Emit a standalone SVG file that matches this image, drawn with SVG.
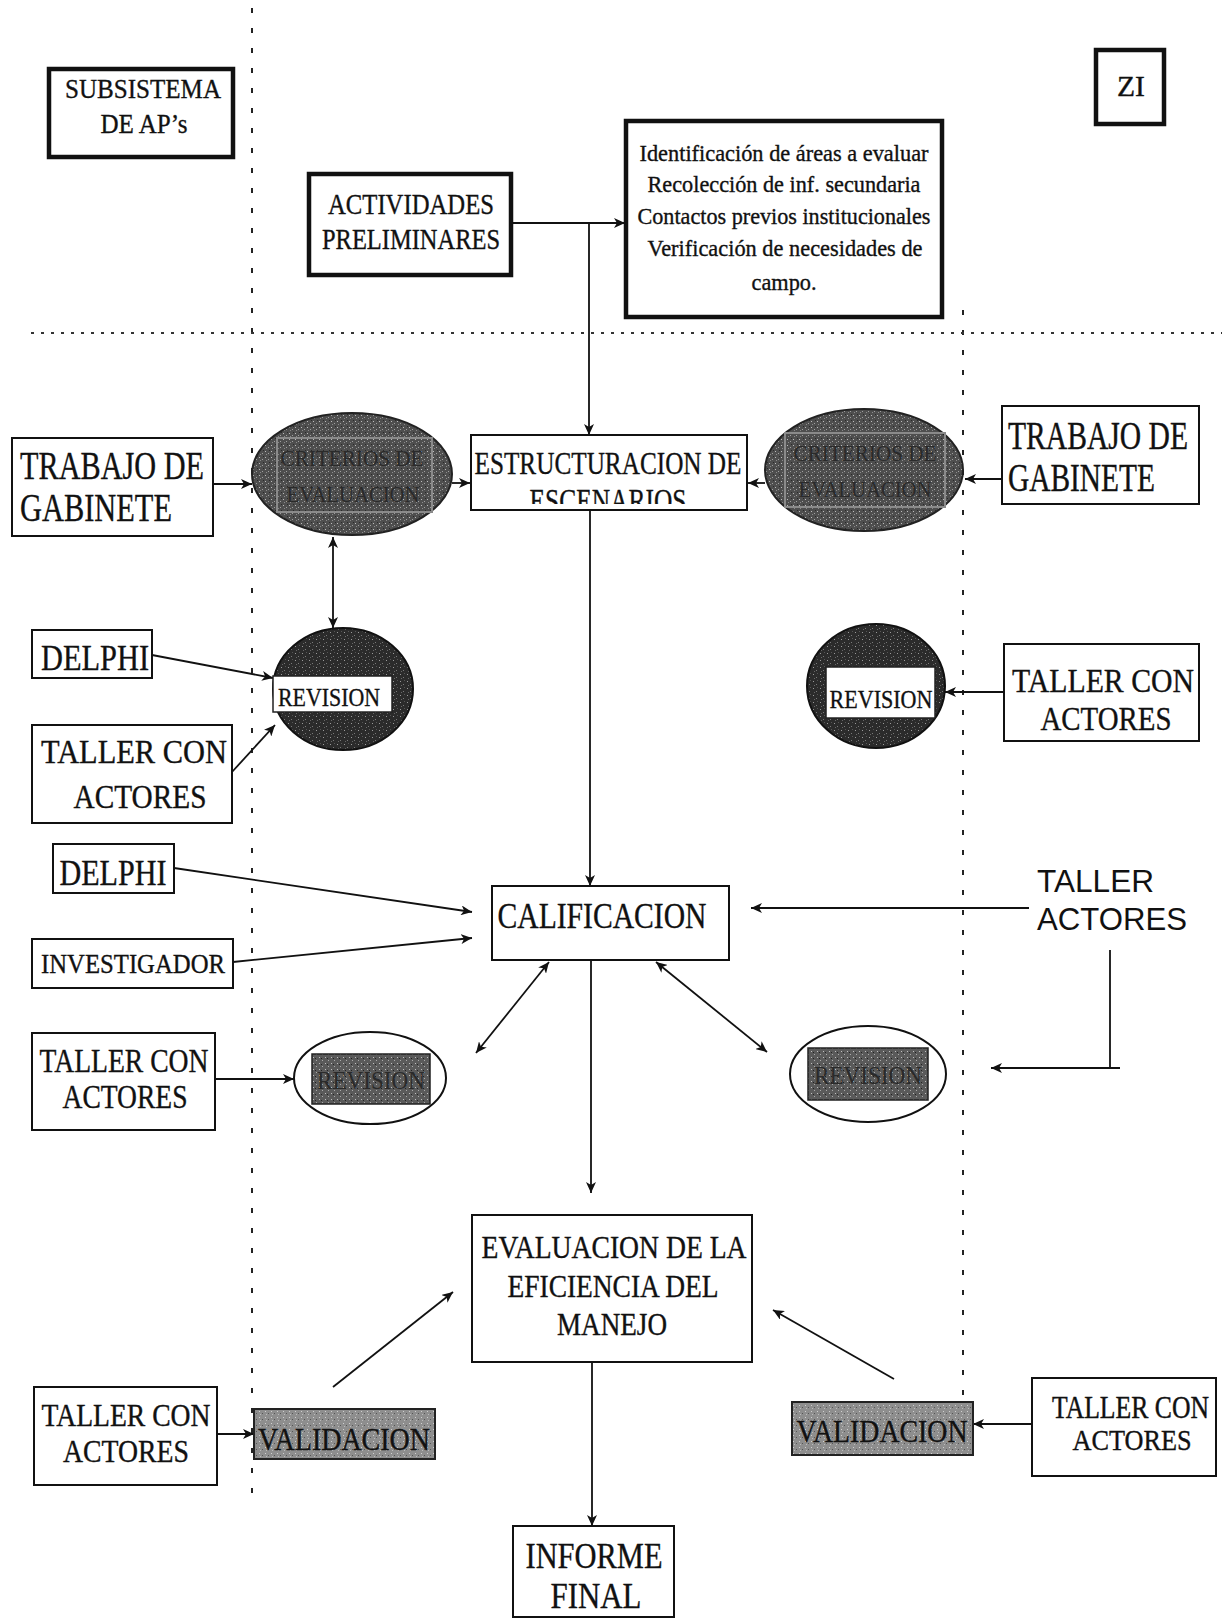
<svg xmlns="http://www.w3.org/2000/svg" width="1222" height="1619" viewBox="0 0 1222 1619">
<style>
.s{font-family:"Liberation Serif","Times New Roman",serif;fill:#111;stroke:#111;stroke-width:0.35}
.a{font-family:"Liberation Sans",Arial,sans-serif;fill:#111}
.m{text-anchor:middle}
.bx{fill:#fff;stroke:#111;stroke-width:2}
.tk{fill:#fff;stroke:#111;stroke-width:4.5}
.c{fill:none;stroke:#111;stroke-width:1.8}
.dv{stroke:#222;stroke-width:2;stroke-dasharray:5 15;fill:none}
.dh{stroke:#333;stroke-width:2;stroke-dasharray:3 7;fill:none}
.dk{fill:#2a2a2a;stroke:none}
</style>
<defs>
<marker id="ah" markerUnits="userSpaceOnUse" markerWidth="12" markerHeight="10" refX="11" refY="5" orient="auto-start-reverse"><path d="M0,0 L11,5 L0,10 L3,5 z" fill="#111"/></marker>
<pattern id="pDark" width="7" height="7" patternUnits="userSpaceOnUse"><rect width="7" height="7" fill="#2b2b2b"/><rect x="1" y="2" width="1" height="1" fill="#9a9a9a"/><rect x="4" y="5" width="1" height="1" fill="#7a7a7a"/><rect x="5" y="1" width="1" height="1" fill="#555"/><rect x="2" y="6" width="1" height="1" fill="#666"/></pattern>
<pattern id="pMid" width="6" height="6" patternUnits="userSpaceOnUse"><rect width="6" height="6" fill="#4e4e4e"/><rect x="1" y="1" width="1" height="1" fill="#bcbcbc"/><rect x="4" y="3" width="1" height="1" fill="#a0a0a0"/><rect x="2" y="4" width="1" height="1" fill="#8a8a8a"/><rect x="5" y="0" width="1" height="1" fill="#2a2a2a"/></pattern>
<pattern id="pLow" width="6" height="6" patternUnits="userSpaceOnUse"><rect width="6" height="6" fill="#5a5a5a"/><rect x="1" y="1" width="1" height="1" fill="#c0c0c0"/><rect x="4" y="4" width="1" height="1" fill="#aaa"/><rect x="3" y="2" width="1" height="1" fill="#222"/></pattern>
<pattern id="pVal" width="6" height="6" patternUnits="userSpaceOnUse"><rect width="6" height="6" fill="#8e8e8e"/><rect x="1" y="1" width="1" height="1" fill="#d0d0d0"/><rect x="4" y="3" width="1" height="1" fill="#555"/><rect x="2" y="4" width="1" height="1" fill="#bbb"/></pattern>
<clipPath id="clipEsc"><rect x="471" y="435" width="276" height="69"/></clipPath>
</defs>
<rect width="1222" height="1619" fill="#fff"/>

<g id="guides">
<line class="dv" x1="252" y1="8" x2="252" y2="1500"/>
<line class="dv" x1="963" y1="310" x2="963" y2="1462"/>
<line class="dh" x1="31" y1="333" x2="1222" y2="333"/>
</g>

<g id="connectors">
<line class="c" x1="511" y1="223" x2="625" y2="223" marker-end="url(#ah)"/>
<line class="c" x1="589" y1="223" x2="589" y2="435" marker-end="url(#ah)"/>
<line class="c" x1="213" y1="484" x2="252" y2="484" marker-end="url(#ah)"/>
<line class="c" x1="452" y1="483" x2="470" y2="483" marker-end="url(#ah)"/>
<line class="c" x1="765" y1="483" x2="748" y2="483" marker-end="url(#ah)"/>
<line class="c" x1="1002" y1="479" x2="965" y2="479" marker-end="url(#ah)"/>
<line class="c" x1="333" y1="537" x2="333" y2="628" marker-start="url(#ah)" marker-end="url(#ah)"/>
<line class="c" x1="152" y1="655" x2="273" y2="678" marker-end="url(#ah)"/>
<line class="c" x1="232" y1="772" x2="275" y2="725" marker-end="url(#ah)"/>
<line class="c" x1="1004" y1="692" x2="945" y2="692" marker-end="url(#ah)"/>
<line class="c" x1="590" y1="510" x2="590" y2="886" marker-end="url(#ah)"/>
<line class="c" x1="174" y1="868" x2="472" y2="912" marker-end="url(#ah)"/>
<line class="c" x1="233" y1="962" x2="472" y2="938" marker-end="url(#ah)"/>
<line class="c" x1="1029" y1="908" x2="751" y2="908" marker-end="url(#ah)"/>
<line class="c" x1="1110" y1="950" x2="1110" y2="1068"/>
<line class="c" x1="1120" y1="1068" x2="991" y2="1068" marker-end="url(#ah)"/>
<line class="c" x1="549" y1="962" x2="476" y2="1053" marker-start="url(#ah)" marker-end="url(#ah)"/>
<line class="c" x1="656" y1="962" x2="767" y2="1052" marker-start="url(#ah)" marker-end="url(#ah)"/>
<line class="c" x1="215" y1="1079" x2="294" y2="1079" marker-end="url(#ah)"/>
<line class="c" x1="591" y1="960" x2="591" y2="1193" marker-end="url(#ah)"/>
<line class="c" x1="333" y1="1387" x2="453" y2="1292" marker-end="url(#ah)"/>
<line class="c" x1="894" y1="1379" x2="773" y2="1310" marker-end="url(#ah)"/>
<line class="c" x1="217" y1="1434" x2="254" y2="1434" marker-end="url(#ah)"/>
<line class="c" x1="1032" y1="1424" x2="973" y2="1424" marker-end="url(#ah)"/>
<line class="c" x1="592" y1="1362" x2="592" y2="1526" marker-end="url(#ah)"/>
</g>

<g id="subsistema">
<rect class="tk" x="49" y="69" width="184" height="88"/>
<text class="s m" x="143" y="98" font-size="28" textLength="156" lengthAdjust="spacingAndGlyphs">SUBSISTEMA</text>
<text class="s m" x="144" y="133" font-size="28" textLength="87" lengthAdjust="spacingAndGlyphs">DE AP’s</text>
</g>

<g id="zi">
<rect class="tk" x="1096" y="50" width="68" height="74"/>
<text class="s m" x="1131" y="96" font-size="30" textLength="28" lengthAdjust="spacingAndGlyphs">ZI</text>
</g>

<g id="actividades">
<rect class="tk" x="309" y="174" width="202" height="101"/>
<text class="s m" x="411" y="214" font-size="29" textLength="166" lengthAdjust="spacingAndGlyphs">ACTIVIDADES</text>
<text class="s m" x="411" y="249" font-size="29" textLength="178" lengthAdjust="spacingAndGlyphs">PRELIMINARES</text>
</g>

<g id="info">
<rect class="tk" x="626" y="121" width="316" height="196"/>
<text class="s m" x="784" y="161" font-size="23" textLength="289" lengthAdjust="spacingAndGlyphs">Identificación de áreas a evaluar</text>
<text class="s m" x="784" y="192" font-size="23" textLength="273" lengthAdjust="spacingAndGlyphs">Recolección de inf. secundaria</text>
<text class="s m" x="784" y="224" font-size="23" textLength="293" lengthAdjust="spacingAndGlyphs">Contactos previos institucionales</text>
<text class="s m" x="785" y="256" font-size="23" textLength="275" lengthAdjust="spacingAndGlyphs">Verificación de necesidades de</text>
<text class="s m" x="784" y="290" font-size="23" textLength="65" lengthAdjust="spacingAndGlyphs">campo.</text>
</g>

<g id="trabajo-izq">
<rect class="bx" x="12" y="438" width="201" height="98"/>
<text class="s" x="20" y="479" font-size="39" textLength="184" lengthAdjust="spacingAndGlyphs">TRABAJO DE</text>
<text class="s" x="20" y="521" font-size="39" textLength="152" lengthAdjust="spacingAndGlyphs">GABINETE</text>
</g>

<g id="criterios-izq">
<ellipse cx="352" cy="474" rx="100" ry="61" fill="url(#pMid)" stroke="#222" stroke-width="2"/>
<rect x="277" y="438" width="155" height="74" fill="none" stroke="#8a8a8a" stroke-width="2"/>
<text class="s m dk" x="352" y="466" font-size="24" textLength="143" lengthAdjust="spacingAndGlyphs">CRITERIOS DE</text>
<text class="s m dk" x="353" y="502" font-size="24" textLength="133" lengthAdjust="spacingAndGlyphs">EVALUACION</text>
</g>

<g id="estructuracion">
<rect class="bx" x="471" y="435" width="276" height="75"/>
<text class="s m" x="608" y="474" font-size="32" textLength="267" lengthAdjust="spacingAndGlyphs">ESTRUCTURACION DE</text>
<text class="s m" x="608" y="512" font-size="34" clip-path="url(#clipEsc)" textLength="157" lengthAdjust="spacingAndGlyphs">ESCENARIOS</text>
</g>

<g id="criterios-der">
<ellipse cx="864" cy="470" rx="99" ry="61" fill="url(#pMid)" stroke="#222" stroke-width="2"/>
<rect x="785" y="433" width="160" height="74" fill="none" stroke="#8a8a8a" stroke-width="2"/>
<text class="s m dk" x="865" y="461" font-size="24" textLength="143" lengthAdjust="spacingAndGlyphs">CRITERIOS DE</text>
<text class="s m dk" x="865" y="497" font-size="24" textLength="133" lengthAdjust="spacingAndGlyphs">EVALUACION</text>
</g>

<g id="trabajo-der">
<rect class="bx" x="1002" y="406" width="197" height="98"/>
<text class="s" x="1008" y="449" font-size="34" transform="matrix(1 0 0 1.15 0 -67.35)" textLength="180" lengthAdjust="spacingAndGlyphs">TRABAJO DE</text>
<text class="s" x="1008" y="491" font-size="34" transform="matrix(1 0 0 1.15 0 -73.65)" textLength="147" lengthAdjust="spacingAndGlyphs">GABINETE</text>
</g>

<g id="delphi-1">
<rect class="bx" x="32" y="630" width="120" height="48"/>
<text class="s m" x="95" y="670" font-size="35" textLength="108" lengthAdjust="spacingAndGlyphs">DELPHI</text>
</g>

<g id="revision-1">
<ellipse cx="343" cy="689" rx="70" ry="61" fill="url(#pDark)" stroke="#111" stroke-width="2"/>
<rect x="273" y="676" width="119" height="36" fill="#fff" stroke="#222" stroke-width="1.5"/>
<text class="s m" x="329" y="706" font-size="26" textLength="102" lengthAdjust="spacingAndGlyphs">REVISION</text>
</g>

<g id="taller-1">
<rect class="bx" x="32" y="725" width="200" height="98"/>
<text class="s m" x="134" y="763" font-size="33" textLength="186" lengthAdjust="spacingAndGlyphs">TALLER CON</text>
<text class="s m" x="140" y="808" font-size="33" textLength="133" lengthAdjust="spacingAndGlyphs">ACTORES</text>
</g>

<g id="revision-2">
<ellipse cx="876" cy="686" rx="69" ry="62" fill="url(#pDark)" stroke="#111" stroke-width="2"/>
<rect x="826" y="667" width="109" height="51" fill="#fff" stroke="#222" stroke-width="1.5"/>
<text class="s m" x="881" y="708" font-size="26" textLength="103" lengthAdjust="spacingAndGlyphs">REVISION</text>
</g>

<g id="taller-2">
<rect class="bx" x="1004" y="644" width="195" height="97"/>
<text class="s m" x="1103" y="692" font-size="33" textLength="182" lengthAdjust="spacingAndGlyphs">TALLER CON</text>
<text class="s m" x="1106" y="730" font-size="33" textLength="131" lengthAdjust="spacingAndGlyphs">ACTORES</text>
</g>

<g id="delphi-2">
<rect class="bx" x="53" y="844" width="121" height="49"/>
<text class="s m" x="113" y="885" font-size="35" textLength="107" lengthAdjust="spacingAndGlyphs">DELPHI</text>
</g>

<g id="investigador">
<rect class="bx" x="32" y="939" width="201" height="49"/>
<text class="s m" x="133" y="973" font-size="27" textLength="184" lengthAdjust="spacingAndGlyphs">INVESTIGADOR</text>
</g>

<g id="calificacion">
<rect class="bx" x="492" y="886" width="237" height="74"/>
<text class="s m" x="602" y="928" font-size="35" textLength="209" lengthAdjust="spacingAndGlyphs">CALIFICACION</text>
</g>

<g id="taller-actores">
<text class="a" x="1037" y="892" font-size="31" textLength="117" lengthAdjust="spacingAndGlyphs">TALLER</text>
<text class="a" x="1037" y="930" font-size="31" textLength="150" lengthAdjust="spacingAndGlyphs">ACTORES</text>
</g>

<g id="taller-3">
<rect class="bx" x="32" y="1033" width="183" height="97"/>
<text class="s m" x="124" y="1072" font-size="33" textLength="169" lengthAdjust="spacingAndGlyphs">TALLER CON</text>
<text class="s m" x="125" y="1108" font-size="33" textLength="125" lengthAdjust="spacingAndGlyphs">ACTORES</text>
</g>

<g id="revision-3">
<ellipse cx="370" cy="1078" rx="76" ry="46" fill="#fff" stroke="#111" stroke-width="2"/>
<rect x="312" y="1054" width="118" height="50" fill="url(#pLow)" stroke="#222" stroke-width="1.5"/>
<text class="s m dk" x="371" y="1089" font-size="26" textLength="108" lengthAdjust="spacingAndGlyphs">REVISION</text>
</g>

<g id="revision-4">
<ellipse cx="868" cy="1074" rx="78" ry="48" fill="#fff" stroke="#111" stroke-width="2"/>
<rect x="808" y="1048" width="120" height="52" fill="url(#pLow)" stroke="#222" stroke-width="1.5"/>
<text class="s m dk" x="868" y="1084" font-size="26" textLength="108" lengthAdjust="spacingAndGlyphs">REVISION</text>
</g>

<g id="evaluacion">
<rect class="bx" x="472" y="1215" width="280" height="147"/>
<text class="s m" x="614" y="1258" font-size="31" textLength="265" lengthAdjust="spacingAndGlyphs">EVALUACION DE LA</text>
<text class="s m" x="613" y="1297" font-size="31" textLength="211" lengthAdjust="spacingAndGlyphs">EFICIENCIA DEL</text>
<text class="s m" x="612" y="1335" font-size="31" textLength="110" lengthAdjust="spacingAndGlyphs">MANEJO</text>
</g>

<g id="taller-4">
<rect class="bx" x="34" y="1387" width="183" height="98"/>
<text class="s m" x="126" y="1426" font-size="31" textLength="169" lengthAdjust="spacingAndGlyphs">TALLER CON</text>
<text class="s m" x="126" y="1462" font-size="31" textLength="126" lengthAdjust="spacingAndGlyphs">ACTORES</text>
</g>

<g id="validacion-1">
<rect x="254" y="1409" width="181" height="50" fill="url(#pVal)" stroke="#222" stroke-width="2"/>
<text class="s m" x="344" y="1450" font-size="31" textLength="172" lengthAdjust="spacingAndGlyphs">VALIDACION</text>
</g>

<g id="validacion-2">
<rect x="792" y="1402" width="181" height="53" fill="url(#pVal)" stroke="#222" stroke-width="2"/>
<text class="s m" x="882" y="1442" font-size="31" textLength="171" lengthAdjust="spacingAndGlyphs">VALIDACION</text>
</g>

<g id="taller-5">
<rect class="bx" x="1032" y="1378" width="184" height="98"/>
<text class="s" x="1052" y="1418" font-size="26" transform="matrix(1 0 0 1.18 0 -255.24)" textLength="157" lengthAdjust="spacingAndGlyphs">TALLER CON</text>
<text class="s m" x="1132" y="1450" font-size="29" textLength="119" lengthAdjust="spacingAndGlyphs">ACTORES</text>
</g>

<g id="informe">
<rect class="bx" x="513" y="1526" width="161" height="91"/>
<text class="s m" x="594" y="1568" font-size="35" textLength="137" lengthAdjust="spacingAndGlyphs">INFORME</text>
<text class="s m" x="596" y="1608" font-size="35" textLength="91" lengthAdjust="spacingAndGlyphs">FINAL</text>
</g>
</svg>
